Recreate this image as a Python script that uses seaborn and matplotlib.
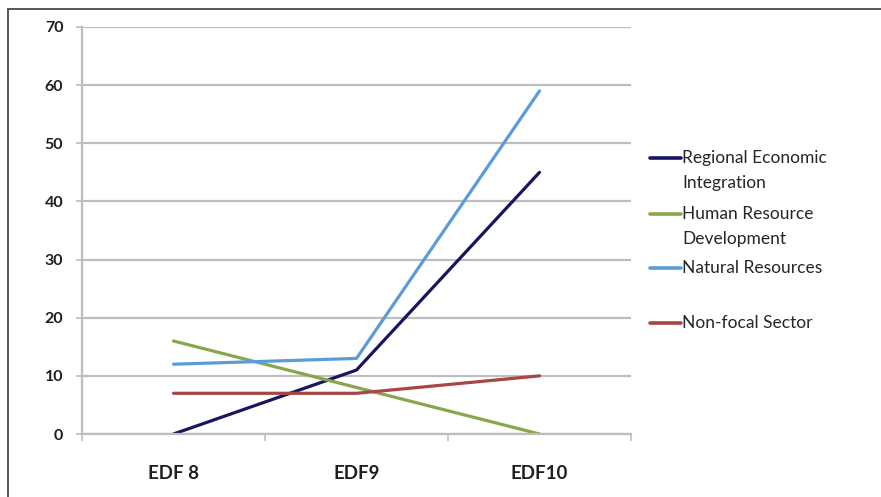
import matplotlib
matplotlib.use("Agg")
import matplotlib.pyplot as plt
from matplotlib.lines import Line2D
import seaborn as sns
import pandas as pd

# Funding envelopes by EDF cycle and sector
periods = ["EDF 8", "EDF9", "EDF10"]
regional_integration = [0, 11, 45]
human_resources = [16, 8, 0]
natural_resources = [12, 13, 59]
non_focal = [7, 7, 10]

series_names = [
    "Regional Economic\nIntegration",
    "Human Resource\nDevelopment",
    "Natural Resources",
    "Non-focal Sector",
]
series_values = [regional_integration, human_resources, natural_resources, non_focal]
series_colors = ["#17165f", "#8aa64c", "#5b9bd8", "#a84646"]

y_ticks = [0, 10, 20, 30, 40, 50, 60, 70]

rows = []
for name, vals in zip(series_names, series_values):
    for p, v in zip(periods, vals):
        rows.append({"period": p, "value": v, "sector": name})
df = pd.DataFrame(rows)

sns.set_theme(style="white")
plt.rcParams["font.family"] = ["Lato", "DejaVu Sans"]

W, H = 881, 497
fig = plt.figure(figsize=(W / 100, H / 100), dpi=100)
ax = fig.add_axes([82 / W, 1 - 434 / H, (631 - 82) / W, (434 - 27) / H])

sns.lineplot(
    data=df, x="period", y="value", hue="sector",
    hue_order=series_names, palette=series_colors,
    linewidth=2.3, legend=False, ax=ax, sort=False,
)

grid_col = "#bdbdbd"
text_col = "#1e1e1e"
ax.set_xlim(-0.5, len(periods) - 0.5)
ax.set_ylim(0, 70)
ax.set_yticks(y_ticks)
ax.set_yticklabels([str(t) for t in y_ticks], fontsize=11.5, fontweight="bold", color=text_col)
ax.set_xticks(range(len(periods)))
ax.set_xticklabels(periods, fontsize=13.5, fontweight="bold", color=text_col)
ax.set_xticks([i - 0.5 for i in range(len(periods) + 1)], minor=True)
ax.set_xlabel("")
ax.set_ylabel("")

ax.yaxis.grid(True, color=grid_col, linewidth=1.6)
ax.set_axisbelow(True)
ax.tick_params(axis="y", length=4.5, width=1.2, color=grid_col, pad=9, left=True)
ax.tick_params(axis="x", which="major", length=0, pad=22)
ax.tick_params(axis="x", which="minor", length=5, width=1.2, color=grid_col, bottom=True)

for side in ["top", "right"]:
    ax.spines[side].set_visible(False)
for side in ["left", "bottom"]:
    ax.spines[side].set_color(grid_col)
    ax.spines[side].set_linewidth(1.6)

# Legend to the right of the plot area
legend_rows = [158, 214, 268, 323]
for name, col, yp in zip(series_names, series_colors, legend_rows):
    yf = 1 - yp / H
    fig.add_artist(Line2D([650 / W, 681 / W], [yf, yf], color=col, linewidth=2.6,
                          transform=fig.transFigure))
    for k, line in enumerate(name.split("\n")):
        fig.text(682 / W, 1 - (yp + 25 * k) / H, line, fontsize=12.5,
                 color="#262626", va="center", ha="left")

# Outer frame (top and left edges)
frame_col = "#555555"
fig.add_artist(Line2D([8 / W, 1.0], [1 - 9 / H, 1 - 9 / H], color=frame_col,
                      linewidth=1.4, transform=fig.transFigure))
fig.add_artist(Line2D([8 / W, 8 / W], [1 - 9 / H, 0.0], color=frame_col,
                      linewidth=1.4, transform=fig.transFigure))

fig.savefig("out.png", dpi=100)
